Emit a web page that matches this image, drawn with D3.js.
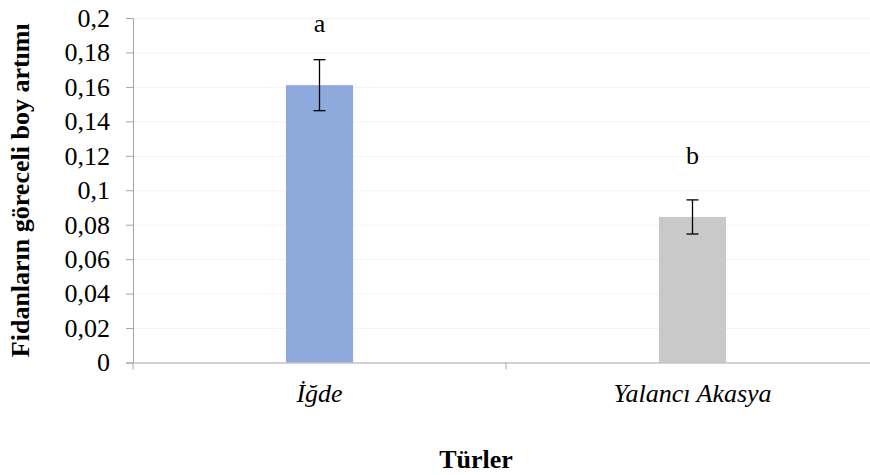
<!DOCTYPE html>
<html>
<head>
<meta charset="utf-8">
<script src="https://cdn.jsdelivr.net/npm/d3@7"></script>
<style>
  body { margin: 0; background: #fff; }
  svg { display: block; overflow: hidden; }
  text { font-family: "Liberation Serif", "Times New Roman", serif; fill: #000; }
</style>
</head>
<body>
<div id="chart"></div>
<script>
// data
var turler = ["İğde", "Yalancı Akasya"];
var ortalama = [0.161, 0.0845];
var hata = [0.0148, 0.0099];
var harfler = ["a", "b"];
var renkler = ["#8EA9DB", "#C9C9C9"];
var yTicks = [0, 0.02, 0.04, 0.06, 0.08, 0.1, 0.12, 0.14, 0.16, 0.18, 0.2];

var data = turler.map(function(t, i) {
  return { tur: t, deger: ortalama[i], hata: hata[i], harf: harfler[i], renk: renkler[i] };
});

var W = 870, H = 475;
var margin = { top: 18, right: -9, bottom: 112.5, left: 133 },
    width  = W - margin.left - margin.right,
    height = H - margin.top - margin.bottom;
var fs = "26px";

var svg = d3.select("#chart").append("svg")
  .attr("width", W).attr("height", H);

var g = svg.append("g")
  .attr("transform", `translate(${margin.left},${margin.top})`);

var x = d3.scaleBand().domain(turler).range([0, width]).paddingInner(0).paddingOuter(0);
var y = d3.scaleLinear().domain([0, 0.2]).range([height, 0]);
var barW = x.bandwidth() * 0.18;

// grid
g.selectAll(".grid").data(yTicks.slice(1)).enter().append("line")
  .attr("x1", 0).attr("x2", width)
  .attr("y1", d => y(d) + 0.5).attr("y2", d => y(d) + 0.5)
  .attr("stroke", "#f3f3f3").attr("stroke-width", 1);

// bars
g.selectAll(".bar").data(data).enter().append("rect")
  .attr("x", d => x(d.tur) + x.bandwidth() / 2 - barW / 2)
  .attr("width", barW)
  .attr("y", d => y(d.deger))
  .attr("height", d => height - y(d.deger))
  .attr("fill", d => d.renk);

// error bars
var eb = g.selectAll(".err").data(data).enter().append("g")
  .attr("transform", d => `translate(${x(d.tur) + x.bandwidth() / 2},0)`);
eb.append("line")
  .attr("x1", 0).attr("x2", 0)
  .attr("y1", d => y(d.deger + d.hata)).attr("y2", d => y(d.deger - d.hata))
  .attr("stroke", "#000").attr("stroke-width", 1.3);
eb.append("line")
  .attr("x1", -6).attr("x2", 6)
  .attr("y1", d => y(d.deger + d.hata)).attr("y2", d => y(d.deger + d.hata))
  .attr("stroke", "#000").attr("stroke-width", 1.3);
eb.append("line")
  .attr("x1", -6).attr("x2", 6)
  .attr("y1", d => y(d.deger - d.hata)).attr("y2", d => y(d.deger - d.hata))
  .attr("stroke", "#000").attr("stroke-width", 1.3);

// letters
g.selectAll(".harf").data(data).enter().append("text")
  .attr("x", d => x(d.tur) + x.bandwidth() / 2)
  .attr("y", d => y(d.deger) - 53)
  .attr("text-anchor", "middle")
  .style("font-size", fs)
  .text(d => d.harf);

// y axis
var yAxis = d3.axisLeft(y).tickValues(yTicks).tickSize(7).tickPadding(16)
  .tickFormat(d => String(+d.toFixed(2)).replace(".", ","));
var ya = g.append("g").call(yAxis);
ya.select(".domain").attr("stroke", "#a6a6a6");
ya.selectAll(".tick line").attr("stroke", "#a6a6a6");
ya.selectAll(".tick text").style("font-size", fs)
  .style("font-family", "Liberation Serif, serif").attr("fill", "#000");

// x axis
var xa = g.append("g").attr("transform", `translate(0,${height})`)
  .call(d3.axisBottom(x).tickSize(0).tickPadding(21));
xa.select(".domain").attr("stroke", "#a6a6a6");
xa.selectAll(".tick text").style("font-size", fs).style("font-style", "italic")
  .style("font-family", "Liberation Serif, serif").attr("fill", "#000");
// category separators
xa.selectAll(".sep").data([0, width / 2, width]).enter().append("line")
  .attr("x1", d => d).attr("x2", d => d)
  .attr("y1", 0).attr("y2", 7)
  .attr("stroke", "#a6a6a6");

// axis titles
svg.append("text")
  .attr("transform", `translate(29,${margin.top + height / 2}) rotate(-90)`)
  .attr("text-anchor", "middle")
  .style("font-size", fs).style("font-weight", "bold")
  .text("Fidanların göreceli boy artımı");

svg.append("text")
  .attr("x", 476).attr("y", 468)
  .attr("text-anchor", "middle")
  .style("font-size", fs).style("font-weight", "bold")
  .text("Türler");
</script>
</body>
</html>
